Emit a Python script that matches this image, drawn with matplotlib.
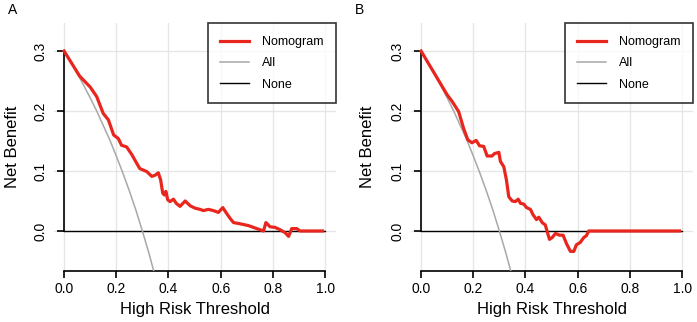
import matplotlib.pyplot as plt

plt.rcParams['font.family'] = ['Liberation Sans', 'DejaVu Sans']

# --- DATA ---
# treat-all curve (same in both panels)
all_x = [0.0, 0.025, 0.05, 0.075, 0.1, 0.125, 0.15, 0.175, 0.2, 0.225, 0.25,
         0.275, 0.3, 0.325, 0.35]
all_y = [0.3, 0.282, 0.263, 0.243, 0.222, 0.2, 0.176, 0.152, 0.125, 0.097, 0.067,
         0.035, 0.0, -0.037, -0.077]

# panel A nomogram
a_x = [0.0, 0.06, 0.1, 0.125, 0.15, 0.17, 0.19, 0.208, 0.22, 0.24, 0.26, 0.278,
       0.29, 0.317, 0.336, 0.349, 0.361, 0.37, 0.378, 0.384, 0.39, 0.397, 0.406,
       0.419, 0.43, 0.444, 0.464, 0.483, 0.502, 0.521, 0.534, 0.553, 0.572,
       0.591, 0.608, 0.623, 0.636, 0.649, 0.674, 0.706, 0.738, 0.764, 0.773,
       0.789, 0.808, 0.828, 0.847, 0.86, 0.872, 0.891, 0.904, 0.99]
a_y = [0.3, 0.258, 0.24, 0.224, 0.196, 0.185, 0.16, 0.154, 0.143, 0.14, 0.127, 0.113,
       0.104, 0.099, 0.091, 0.093, 0.097, 0.085, 0.063, 0.06, 0.066, 0.052, 0.049,
       0.053, 0.046, 0.041, 0.05, 0.042, 0.038, 0.036, 0.034, 0.036, 0.034,
       0.031, 0.039, 0.029, 0.021, 0.014, 0.012, 0.009, 0.004, 0.0, 0.014,
       0.007, 0.006, 0.002, -0.003, -0.009, 0.004, 0.004, 0.0, 0.0]

# panel B nomogram
b_x = [0.0, 0.1, 0.119, 0.144, 0.163, 0.179, 0.195, 0.211, 0.224, 0.24, 0.253,
       0.272, 0.281, 0.298, 0.304, 0.317, 0.327, 0.336, 0.349, 0.361, 0.372,
       0.381, 0.393, 0.404, 0.419, 0.429, 0.442, 0.451, 0.464, 0.476, 0.483,
       0.492, 0.502, 0.515, 0.53, 0.544, 0.557, 0.572, 0.585, 0.595, 0.61,
       0.623, 0.633, 0.642, 0.99]
b_y = [0.3, 0.227, 0.216, 0.199, 0.171, 0.152, 0.147, 0.151, 0.142, 0.141, 0.125,
       0.125, 0.129, 0.131, 0.116, 0.107, 0.085, 0.057, 0.05, 0.049, 0.053,
       0.046, 0.045, 0.039, 0.036, 0.027, 0.019, 0.023, 0.014, 0.01, -0.001,
       -0.014, -0.011, -0.004, -0.007, -0.007, -0.021, -0.034, -0.034, -0.023, -0.019,
       -0.011, -0.008, 0.0, 0.0]

x_ticks = [0.0, 0.2, 0.4, 0.6, 0.8, 1.0]
y_ticks = [0.0, 0.1, 0.2, 0.3]
panels = [("A", a_x, a_y), ("B", b_x, b_y)]

RED = '#e8261e'
GRAY = '#a8a8a8'

W, H = 697, 322
fig = plt.figure(figsize=(W / 100, H / 100), dpi=100)

lefts = [53.6, 410.6]      # left edge of each plot region, px
ylab_x = [20, 375]         # right edge of the rotated y label, px
tag_x = [8, 355]
for (tag, nx, ny), left, lx, tx in zip(panels, lefts, ylab_x, tag_x):
    ax = fig.add_axes([left / W, 51 / H, 282 / W, 247.6 / H])
    ax.set_xlim(-0.04, 1.04)
    ax.set_ylim(-0.0667, 0.346)

    # grid
    for gx in x_ticks:
        ax.axvline(gx, color='#e6e6e6', lw=1.0, zorder=0)
    for gy in y_ticks:
        ax.axhline(gy, color='#e6e6e6', lw=1.0, zorder=0)

    l1, = ax.plot(nx, ny, color=RED, lw=2.3, zorder=4, label='Nomogram')
    l2, = ax.plot(all_x, all_y, color=GRAY, lw=1.1, zorder=3, label='All')
    l3, = ax.plot([0, 1], [0, 0], color='black', lw=1.0, zorder=2, label='None')

    for s in ['top', 'right']:
        ax.spines[s].set_visible(False)
    ax.spines['left'].set_position(('data', 0))
    ax.spines['left'].set_bounds(0, 0.3)
    ax.spines['bottom'].set_bounds(0, 1)
    for s in ['left', 'bottom']:
        ax.spines[s].set_linewidth(1.2)

    ax.set_xticks(x_ticks)
    ax.set_xticklabels([f"{t:.1f}" for t in x_ticks])
    ax.set_yticks(y_ticks)
    ax.set_yticklabels([f"{t:.1f}" for t in y_ticks], rotation=90, va='center')
    ax.tick_params(axis='x', length=5, width=1.2, pad=3, labelsize=10)
    ax.tick_params(axis='y', length=5, width=1.2, pad=7, labelsize=10)

    ax.set_xlabel('High Risk Threshold', fontsize=12, labelpad=4)
    ax.set_ylabel('Net Benefit', fontsize=12)
    ax.yaxis.set_label_coords((lx - left) / 282, 0.5)

    leg = ax.legend(handles=[l1, l2, l3], loc='upper right', fontsize=9,
                    borderaxespad=0, frameon=True, fancybox=False,
                    handlelength=2.3, handletextpad=1.0, labelspacing=0.75,
                    borderpad=1.0)
    leg.get_frame().set_edgecolor('black')
    leg.get_frame().set_linewidth(1.2)

    fig.text(tx / W, 1 - 10 / H, tag, fontsize=10, ha='left', va='center')

fig.savefig('out.png', dpi=100)
